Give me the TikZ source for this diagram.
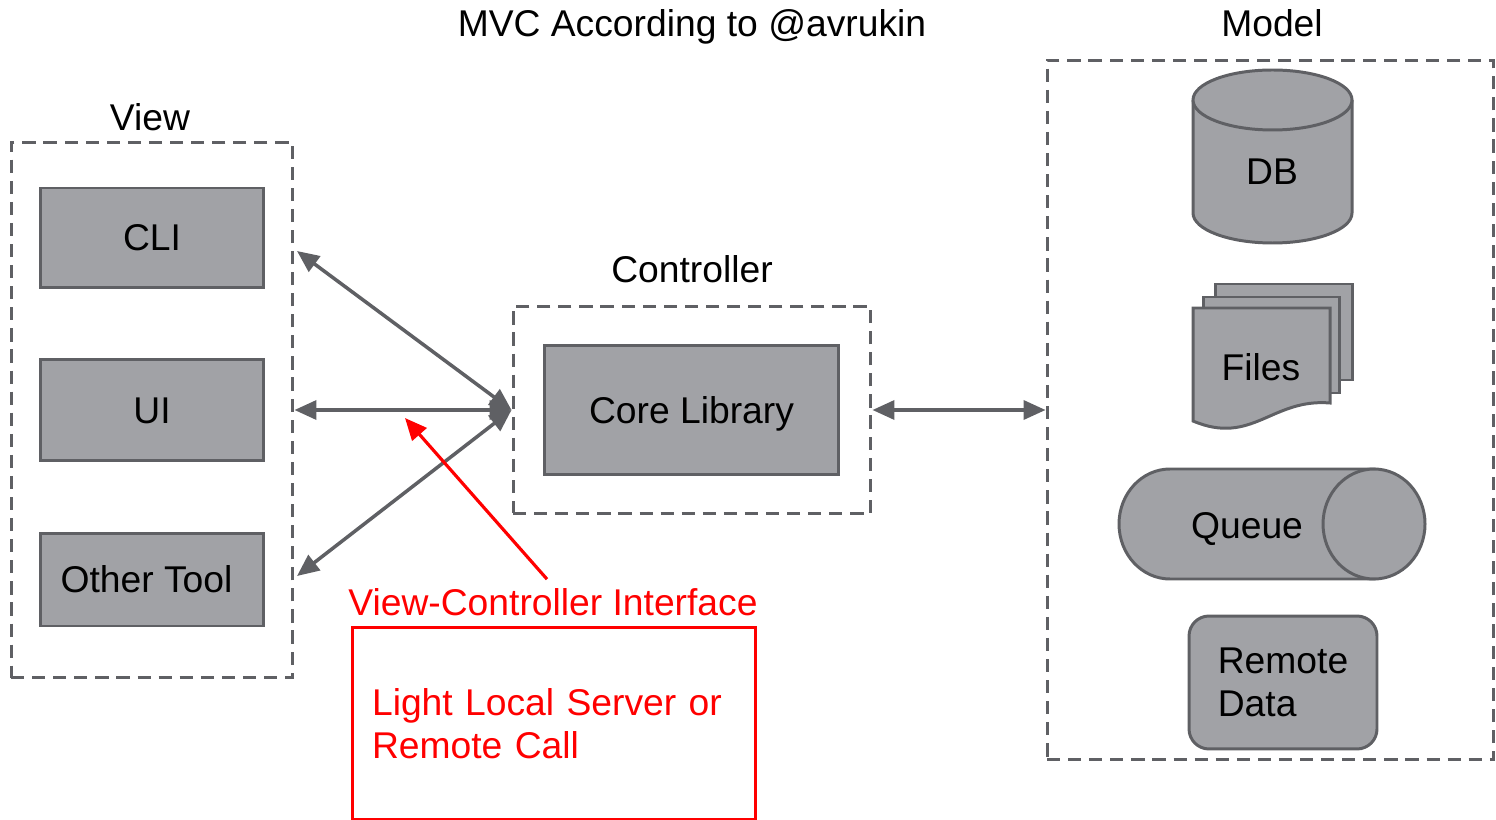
\documentclass[tikz,border=0pt]{standalone}
\usepackage{fontspec}
\setmainfont{Liberation Sans}
\usetikzlibrary{arrows.meta}
\definecolor{boxgray}{RGB}{161,162,166}
\definecolor{edgegray}{RGB}{95,96,100}

\begin{document}
\begin{tikzpicture}[x=0.02cm, y=-0.02cm, font=\fontsize{21.2}{24.5}\selectfont,
	onerow/.style={text height=18pt, text depth=3.2pt},
	group/.style={draw=edgegray, line width=1.7pt, dash pattern=on 7.5pt off 4.5pt},
	block/.style={draw=edgegray, fill=boxgray, line width=1.7pt},
	conn/.style={draw=edgegray, line width=2pt, {Triangle[length=0.44cm,width=0.38cm]}-{Triangle[length=0.44cm,width=0.38cm]}},
	note/.style={text=red}]
	
	\useasboundingbox (0,0) rectangle (1496,820);
	
	% labels
	\node[onerow] (title) at (692,24) {MVC According to @avrukin};
	\node[onerow] (modellbl) at (1272,24) {Model};
	\node[onerow] (viewlbl) at (150,118) {View};
	\node[onerow] (ctrllbl) at (692,269) {Controller};
	
	% view
	\node[group, minimum width=5.64cm, minimum height=10.72cm] (view) at (152,410) {};
	\node[block, onerow, minimum width=4.48cm, minimum height=2cm] (cli) at (152,238) {CLI};
	\node[block, onerow, minimum width=4.48cm, minimum height=2.04cm] (ui) at (152,410) {UI};
	\node[block, onerow, minimum width=4.48cm, minimum height=1.86cm] (other) at (152,579.5) {Other Tool\rule{0.22cm}{0pt}};
	
	% controller
	\node[group, minimum width=7.16cm, minimum height=4.14cm] (ctrl) at (692,410) {};
	\node[block, onerow, minimum width=5.9cm, minimum height=2.6cm] (core) at (691.5,410) {Core Library};
	
	% model
	\node[group, minimum width=8.94cm, minimum height=14cm] (model) at (1270.5,410) {};
	
	\path[block] (1193,100) -- (1193,213) arc (180:0:79.5 and 30) -- (1352,100);
	\path[block] (1272.5,100) ellipse (79.5 and 30);
	\node[onerow] (db) at (1272,172) {DB};
	
	\path[block] (1215,284) rectangle (1352,380);
	\path[block] (1203,297) rectangle (1339,393);
	\path[block] (1193,308) -- (1330,308) -- (1330,403) .. controls (1272,398) and (1252,446) .. (1193,421) -- cycle;
	\node[onerow] (files) at (1261,367) {Files};
	
	\path[block] (1374,469) -- (1170,469) arc (270:90:51 and 55) -- (1374,579) -- cycle;
	\path[block] (1374,524) ellipse (51 and 55);
	\node[onerow] (queue) at (1247,525) {Queue};
	
	\node[block, rounded corners=0.4cm, minimum width=3.76cm, minimum height=2.66cm, align=left] (remote) at (1283,682.5) {Remote\\Data};
	
	% connectors
	\coordinate (vtop) at (297,251);
	\coordinate (vbot) at (297,576);
	\draw[conn] (ctrl.west) -- (vtop);
	\draw[conn] (ctrl.west) -- (view.east);
	\draw[conn] (ctrl.west) -- (vbot);
	\draw[conn] (ctrl.east) -- (model.west);
	
	% interface note
	\node[note, onerow] (vci) at (553,602) {View-Controller Interface};
	\node[draw=red, line width=1.7pt, minimum width=8.08cm, minimum height=3.84cm, text width=7.28cm, inner xsep=0.4cm, align=left, note] (rbox) at (554,723.5) {Light Local Server or\\Remote Call};
	\coordinate (ptr) at (405,418);
	\draw[red, line width=1.8pt, -{Triangle[length=0.44cm,width=0.38cm]}] ([shift={(-6,2)}]vci.north) -- (ptr);
	
\end{tikzpicture}
\end{document}
